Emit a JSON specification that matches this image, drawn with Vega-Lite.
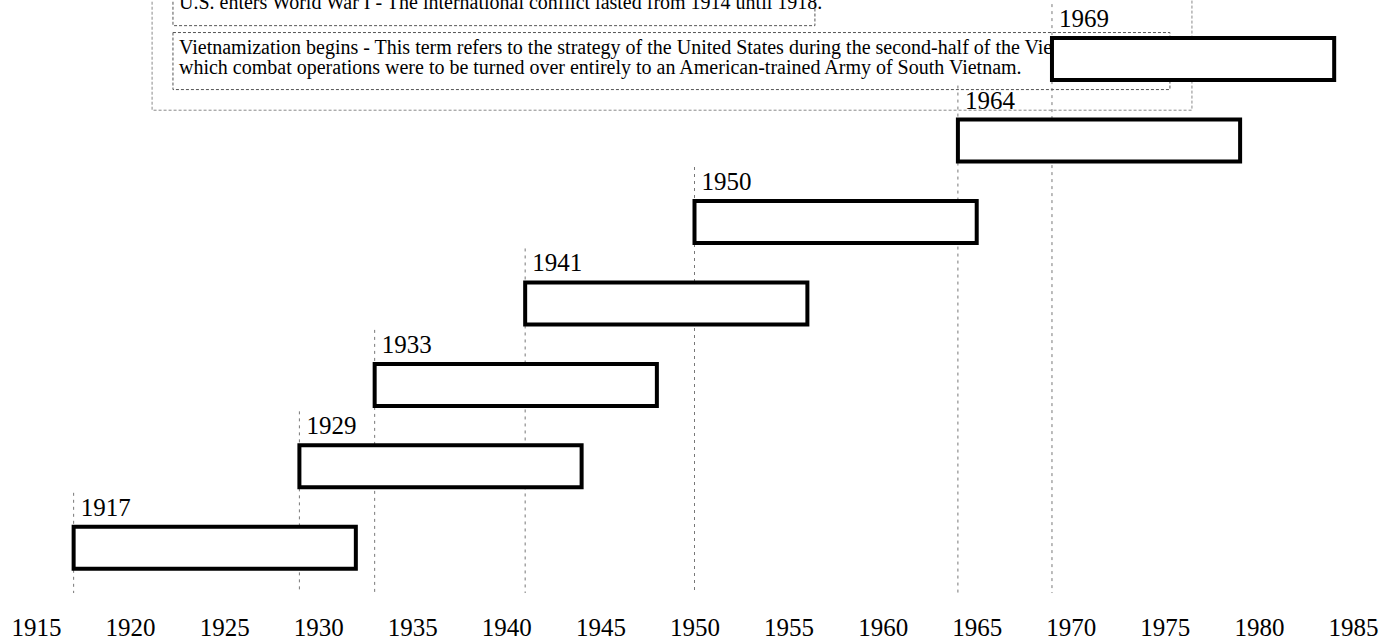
{
  "$schema": "https://vega.github.io/schema/vega-lite/v6.json",
  "width": 1317,
  "height": 600,
  "autosize": {"type": "none"},
  "padding": {"left": 36, "right": 44, "top": 0, "bottom": 40},
  "background": "white",
  "config": {"view": {"stroke": null}, "font": "Liberation Serif"},
  "datasets": {
    "events": [
      {"year": 1917, "end": 1932},
      {"year": 1929, "end": 1944},
      {"year": 1933, "end": 1948},
      {"year": 1941, "end": 1956},
      {"year": 1950, "end": 1965},
      {"year": 1964, "end": 1979},
      {"year": 1969, "end": 1984}
    ],
    "notes": [
      {"event": "U.S. enters World War I", "text": "U.S. enters World War I - The international conflict lasted from 1914 until 1918."},
      {"event": "Vietnamization begins", "text": "Vietnamization begins - This term refers to the strategy of the United States during the second-half of the Vietnam War in\nwhich combat operations were to be turned over entirely to an American-trained Army of South Vietnam."}
    ]
  },
  "layer": [
    {
      "data": {"values": [{"panel": "notes"}]},
      "mark": {"type": "rect", "fill": "white", "stroke": "#8a8a8a", "strokeWidth": 1, "strokeDash": [3, 2]},
      "encoding": {
        "x": {"datum": 1921.17, "type": "quantitative", "scale": {"domain": [1915, 1985], "nice": false, "zero": false}, "axis": {"values": [1915,1920,1925,1930,1935,1940,1945,1950,1955,1960,1965,1970,1975,1980,1985], "format": "d", "ticks": false, "tickSize": 0, "domain": false, "grid": false, "labelFont": "Liberation Serif", "labelFontSize": 25, "labelColor": "#000", "labelPadding": 35, "labelBaseline": "alphabetic", "labelFlush": false, "labelOverlap": false, "title": null}},
        "x2": {"datum": 1976.44},
        "y": {"datum": 8.027, "type": "quantitative", "scale": {"domain": [0.4205, 7.6643], "nice": false, "zero": false}, "axis": null},
        "y2": {"datum": 6.3725}
      }
    },
    {
      "data": {"name": "notes"},
      "transform": [{"filter": "datum.event === 'U.S. enters World War I'"}],
      "mark": {"type": "rect", "fill": "white", "stroke": "#555", "strokeWidth": 1, "strokeDash": [3, 2]},
      "encoding": {
        "x": {"datum": 1922.28, "type": "quantitative", "scale": {"domain": [1915, 1985], "nice": false, "zero": false}, "axis": {"values": [1915,1920,1925,1930,1935,1940,1945,1950,1955,1960,1965,1970,1975,1980,1985], "format": "d", "ticks": false, "tickSize": 0, "domain": false, "grid": false, "labelFont": "Liberation Serif", "labelFontSize": 25, "labelColor": "#000", "labelPadding": 35, "labelBaseline": "alphabetic", "labelFlush": false, "labelOverlap": false, "title": null}},
        "x2": {"datum": 1956.4},
        "y": {"datum": 8.027, "type": "quantitative", "scale": {"domain": [0.4205, 7.6643], "nice": false, "zero": false}, "axis": null},
        "y2": {"datum": 7.4107}
      }
    },
    {
      "data": {"name": "notes"},
      "transform": [{"filter": "datum.event === 'Vietnamization begins'"}],
      "mark": {"type": "rect", "fill": "white", "stroke": "#555", "strokeWidth": 1, "strokeDash": [3, 2]},
      "encoding": {
        "x": {"datum": 1922.28, "type": "quantitative", "scale": {"domain": [1915, 1985], "nice": false, "zero": false}, "axis": {"values": [1915,1920,1925,1930,1935,1940,1945,1950,1955,1960,1965,1970,1975,1980,1985], "format": "d", "ticks": false, "tickSize": 0, "domain": false, "grid": false, "labelFont": "Liberation Serif", "labelFontSize": 25, "labelColor": "#000", "labelPadding": 35, "labelBaseline": "alphabetic", "labelFlush": false, "labelOverlap": false, "title": null}},
        "x2": {"datum": 1975.27},
        "y": {"datum": 7.3262, "type": "quantitative", "scale": {"domain": [0.4205, 7.6643], "nice": false, "zero": false}, "axis": null},
        "y2": {"datum": 6.626}
      }
    },
    {
      "data": {"name": "notes"},
      "transform": [{"filter": "datum.event === 'U.S. enters World War I'"}],
      "mark": {"type": "text", "align": "left", "baseline": "alphabetic", "dx": 6, "font": "Liberation Serif", "fontSize": 20, "color": "#000"},
      "encoding": {
        "x": {"datum": 1922.28, "type": "quantitative", "scale": {"domain": [1915, 1985], "nice": false, "zero": false}, "axis": {"values": [1915,1920,1925,1930,1935,1940,1945,1950,1955,1960,1965,1970,1975,1980,1985], "format": "d", "ticks": false, "tickSize": 0, "domain": false, "grid": false, "labelFont": "Liberation Serif", "labelFontSize": 25, "labelColor": "#000", "labelPadding": 35, "labelBaseline": "alphabetic", "labelFlush": false, "labelOverlap": false, "title": null}},
        "y": {"datum": 7.616, "type": "quantitative", "scale": {"domain": [0.4205, 7.6643], "nice": false, "zero": false}, "axis": null},
        "text": {"field": "text"}
      }
    },
    {
      "data": {"name": "notes"},
      "transform": [{"filter": "datum.event === 'Vietnamization begins'"}],
      "mark": {"type": "text", "align": "left", "baseline": "alphabetic", "dx": 6, "font": "Liberation Serif", "fontSize": 20, "lineHeight": 20, "lineBreak": "\n", "color": "#000"},
      "encoding": {
        "x": {"datum": 1922.28, "type": "quantitative", "scale": {"domain": [1915, 1985], "nice": false, "zero": false}, "axis": {"values": [1915,1920,1925,1930,1935,1940,1945,1950,1955,1960,1965,1970,1975,1980,1985], "format": "d", "ticks": false, "tickSize": 0, "domain": false, "grid": false, "labelFont": "Liberation Serif", "labelFontSize": 25, "labelColor": "#000", "labelPadding": 35, "labelBaseline": "alphabetic", "labelFlush": false, "labelOverlap": false, "title": null}},
        "y": {"datum": 7.0607, "type": "quantitative", "scale": {"domain": [0.4205, 7.6643], "nice": false, "zero": false}, "axis": null},
        "text": {"field": "text"}
      }
    },
    {
      "data": {"name": "events"},
      "transform": [{"window": [{"op": "row_number", "as": "lane"}], "sort": [{"field": "year", "order": "ascending"}]}],
      "mark": {"type": "rule", "stroke": "#777", "strokeWidth": 1, "strokeDash": [3, 4], "yOffset": -55},
      "encoding": {
        "x": {"field": "year", "type": "quantitative", "scale": {"domain": [1915, 1985], "nice": false, "zero": false}, "axis": {"values": [1915,1920,1925,1930,1935,1940,1945,1950,1955,1960,1965,1970,1975,1980,1985], "format": "d", "ticks": false, "tickSize": 0, "domain": false, "grid": false, "labelFont": "Liberation Serif", "labelFontSize": 25, "labelColor": "#000", "labelPadding": 35, "labelBaseline": "alphabetic", "labelFlush": false, "labelOverlap": false, "title": null}},
        "y": {"field": "lane", "type": "quantitative", "scale": {"domain": [0.4205, 7.6643], "nice": false, "zero": false}, "axis": null},
        "y2": {"datum": 0.4447}
      }
    },
    {
      "data": {"name": "events"},
      "transform": [{"window": [{"op": "row_number", "as": "lane"}], "sort": [{"field": "year", "order": "ascending"}]}],
      "mark": {"type": "bar", "orient": "horizontal", "size": 42, "fill": "white", "stroke": "#000", "strokeWidth": 4},
      "encoding": {
        "x": {"field": "year", "type": "quantitative", "scale": {"domain": [1915, 1985], "nice": false, "zero": false}, "axis": {"values": [1915,1920,1925,1930,1935,1940,1945,1950,1955,1960,1965,1970,1975,1980,1985], "format": "d", "ticks": false, "tickSize": 0, "domain": false, "grid": false, "labelFont": "Liberation Serif", "labelFontSize": 25, "labelColor": "#000", "labelPadding": 35, "labelBaseline": "alphabetic", "labelFlush": false, "labelOverlap": false, "title": null}},
        "x2": {"field": "end"},
        "y": {"field": "lane", "type": "quantitative", "scale": {"domain": [0.4205, 7.6643], "nice": false, "zero": false}, "axis": null}
      }
    },
    {
      "data": {"name": "events"},
      "transform": [{"window": [{"op": "row_number", "as": "lane"}], "sort": [{"field": "year", "order": "ascending"}]}],
      "mark": {"type": "text", "align": "left", "baseline": "alphabetic", "dx": 7, "dy": -32, "font": "Liberation Serif", "fontSize": 25, "color": "#000"},
      "encoding": {
        "x": {"field": "year", "type": "quantitative", "scale": {"domain": [1915, 1985], "nice": false, "zero": false}, "axis": {"values": [1915,1920,1925,1930,1935,1940,1945,1950,1955,1960,1965,1970,1975,1980,1985], "format": "d", "ticks": false, "tickSize": 0, "domain": false, "grid": false, "labelFont": "Liberation Serif", "labelFontSize": 25, "labelColor": "#000", "labelPadding": 35, "labelBaseline": "alphabetic", "labelFlush": false, "labelOverlap": false, "title": null}},
        "y": {"field": "lane", "type": "quantitative", "scale": {"domain": [0.4205, 7.6643], "nice": false, "zero": false}, "axis": null},
        "text": {"field": "year", "type": "quantitative", "format": "d"}
      }
    }
  ]
}
